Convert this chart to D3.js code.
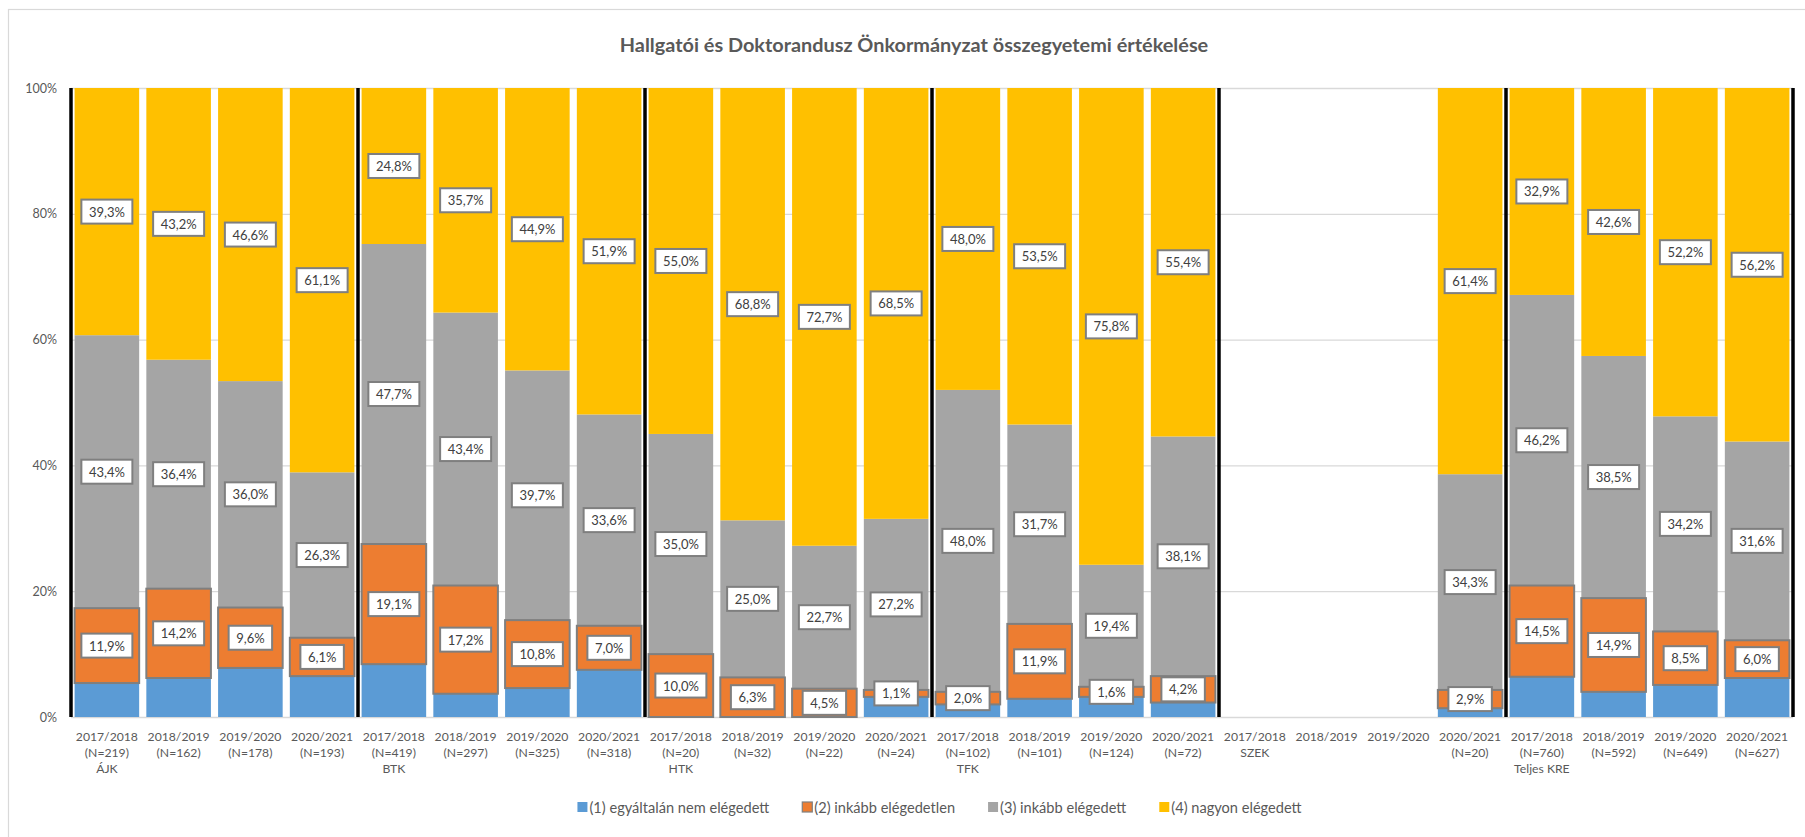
<!DOCTYPE html>
<html>
<head>
<meta charset="utf-8">
<script src="https://cdn.jsdelivr.net/npm/d3@7"></script>
<style>
  html, body { margin: 0; padding: 0; background: #ffffff; }
  svg { display: block; font-family: Lato, "Open Sans", "DejaVu Sans", sans-serif; }
</style>
</head>
<body>
<svg id="chart" width="1805" height="837"></svg>
<script>
// ---------------- DATA ----------------
const titleText = "Hallgatói és Doktorandusz Önkormányzat összegyetemi értékelése";

const groups = ["ÁJK", "BTK", "HTK", "TFK", "SZEK", "Teljes KRE"];
const years = ["2017/2018", "2018/2019", "2019/2020", "2020/2021"];

const nLabels = [
  "(N=219)", "(N=162)", "(N=178)", "(N=193)",
  "(N=419)", "(N=297)", "(N=325)", "(N=318)",
  "(N=20)",  "(N=32)",  "(N=22)",  "(N=24)",
  "(N=102)", "(N=101)", "(N=124)", "(N=72)",
  "",        "",        "",        "(N=20)",
  "(N=760)", "(N=592)", "(N=649)", "(N=627)"
];

const seriesNames = [
  "(1) egyáltalán nem elégedett",
  "(2) inkább elégedetlen",
  "(3) inkább elégedett",
  "(4) nagyon elégedett"
];
const seriesColors = ["#5B9BD5", "#ED7D31", "#A5A5A5", "#FFC000"];

const s1 = [5.4, 6.2, 7.8, 6.5,  8.4, 3.7, 4.6, 7.5,  0, 0, 0, 3.2,  2.0, 2.9, 3.2, 2.3,  null, null, null, 1.4,  6.4, 4.0, 5.1, 6.2];
const s2 = [11.9, 14.2, 9.6, 6.1,  19.1, 17.2, 10.8, 7.0,  10.0, 6.3, 4.5, 1.1,  2.0, 11.9, 1.6, 4.2,  null, null, null, 2.9,  14.5, 14.9, 8.5, 6.0];
const s3 = [43.4, 36.4, 36.0, 26.3,  47.7, 43.4, 39.7, 33.6,  35.0, 25.0, 22.7, 27.2,  48.0, 31.7, 19.4, 38.1,  null, null, null, 34.3,  46.2, 38.5, 34.2, 31.6];
const s4 = [39.3, 43.2, 46.6, 61.1,  24.8, 35.7, 44.9, 51.9,  55.0, 68.8, 72.7, 68.5,  48.0, 53.5, 75.8, 55.4,  null, null, null, 61.4,  32.9, 42.6, 52.2, 56.2];

const yTicks = [0, 0.2, 0.4, 0.6, 0.8, 1];

// ---------------- BUILD ----------------
const FS_LEG = 14.6, FS_X = 12.2, FS_Y = 12.5, FS_LBL = 13;
const cats = [];
groups.forEach((g, gi) => years.forEach((yr, yi) => {
  const i = gi * years.length + yi;
  cats.push({ key: g + " " + yr, group: g, year: yr, n: nLabels[i], first: yi === 0, i });
}));
const rows = cats.map((c, i) => ({ key: c.key, s0: s1[i], s1: s2[i], s2: s3[i], s3: s4[i], empty: s1[i] === null }));
const stackKeys = ["s0", "s1", "s2", "s3"];
// 100% stacked, like the original spreadsheet chart
const stacked = d3.stack().keys(stackKeys).value((d, k) => d[k] || 0)
  .offset(d3.stackOffsetExpand)(rows);

const svg = d3.select("#chart");
const W = 1805, H = 837;
const plot = { left: 71, right: 1793, top: 88, bottom: 717 };

svg.append("rect").attr("x", 0).attr("y", 0).attr("width", W).attr("height", H).attr("fill", "#fff");
svg.append("rect").attr("x", 8.5).attr("y", 9.5).attr("width", W).attr("height", H)
  .attr("fill", "none").attr("stroke", "#d9d9d9").attr("stroke-width", 1.2);

const x = d3.scaleBand().domain(cats.map(c => c.key))
  .range([plot.left, plot.right]).paddingInner(0.1).paddingOuter(0.05);
const y = d3.scaleLinear().domain([0, 1]).range([plot.bottom, plot.top]);

// title
const title = svg.append("text").attr("x", 914).attr("y", 44).attr("text-anchor", "middle")
  .attr("dominant-baseline", "central").attr("font-weight", "bold").attr("fill", "#595959")
  .attr("font-size", 19).text(titleText);
const tw = title.node().getComputedTextLength();
title.attr("font-size", 19 * 589 / tw);

// gridlines + y axis
const yAxis = d3.axisLeft(y).tickValues(yTicks).tickFormat(d3.format(".0%"))
  .tickSize(-(plot.right - plot.left)).tickPadding(14);
const ga = svg.append("g").attr("transform", `translate(${plot.left},0)`).call(yAxis);
ga.select(".domain").remove();
ga.selectAll(".tick line").attr("stroke", "#d9d9d9").attr("stroke-width", 1.3);
ga.selectAll(".tick text").attr("fill", "#595959").attr("font-size", FS_Y)
  .attr("font-family", "Lato, 'Open Sans', sans-serif");

// bars
const barLayers = svg.append("g");
const drawOrder = [0, 2, 3, 1];
drawOrder.forEach(si => {
  const layer = stacked[si];
  barLayers.append("g")
    .selectAll("rect")
    .data(layer.filter(d => !d.data.empty && (d[1] - d[0]) > 0))
    .join("rect")
    .attr("x", d => x(d.data.key))
    .attr("width", x.bandwidth())
    .attr("y", d => y(d[1]))
    .attr("height", d => y(d[0]) - y(d[1]))
    .attr("fill", seriesColors[si])
    .attr("stroke", si === 1 ? "#7f7f7f" : "none")
    .attr("stroke-width", si === 1 ? 2 : 0);
});

// group separators (black vertical lines at group boundaries)
const sepIdx = d3.range(0, cats.length + 1, years.length);
svg.append("g").selectAll("line").data(sepIdx).join("line")
  .attr("x1", i => plot.left + i * x.step())
  .attr("x2", i => plot.left + i * x.step())
  .attr("y1", y(0)).attr("y2", y(1))
  .attr("stroke", "#000").attr("stroke-width", 3.5);

// data labels
const fmt = v => v.toFixed(1).replace(".", ",") + "%";
const lblG = svg.append("g");
[1, 2, 3].forEach(si => {
  stacked[si].forEach(d => {
    if (d.data.empty) return;
    const v = d.data[stackKeys[si]];
    if (!v) return;
    const cx = x(d.data.key) + x.bandwidth() / 2;
    const cy = y((d[0] + d[1]) / 2);
    const g = lblG.append("g");
    const rect = g.append("rect");
    const t = g.append("text").attr("x", cx).attr("y", cy).attr("text-anchor", "middle")
      .attr("dominant-baseline", "central").attr("font-size", FS_LBL).attr("fill", "#404040").text(fmt(v));
    const w = t.node().getComputedTextLength() + 15;
    const h = 24;
    rect.attr("x", cx - w / 2).attr("y", cy - h / 2).attr("width", w).attr("height", h)
      .attr("fill", "#fff").attr("stroke", "#7f7f7f").attr("stroke-width", 2);
  });
});

// x axis labels
const xl = svg.append("g");
cats.forEach(c => {
  const lines = [c.year];
  if (c.n) lines.push(c.n);
  if (c.first) lines.push(c.group);
  const cx = x(c.key) + x.bandwidth() / 2;
  lines.forEach((ln, li) => {
    xl.append("text").attr("x", cx).attr("y", 736 + li * 16).attr("text-anchor", "middle")
      .attr("dominant-baseline", "central").attr("font-size", FS_X).attr("fill", "#595959").text(ln);
  });
});

// legend
const leg = svg.append("g");
const items = seriesNames.map((name, i) => {
  const g = leg.append("g");
  g.append("rect").attr("x", 0).attr("y", -5).attr("width", 10).attr("height", 10)
    .attr("fill", seriesColors[i]).attr("stroke", i === 1 ? "#7f7f7f" : "none").attr("stroke-width", 1.2);
  const t = g.append("text").attr("x", 12).attr("y", 0).attr("dominant-baseline", "central")
    .attr("font-size", FS_LEG).attr("fill", "#595959").text(name);
  return { g, w: 12 + t.node().getComputedTextLength() };
});
const gap = 33;
const totalW = d3.sum(items, d => d.w) + gap * (items.length - 1);
let lx = 939.5 - totalW / 2;
items.forEach(it => {
  it.g.attr("transform", `translate(${lx},807)`);
  lx += it.w + gap;
});
</script>
</body>
</html>
